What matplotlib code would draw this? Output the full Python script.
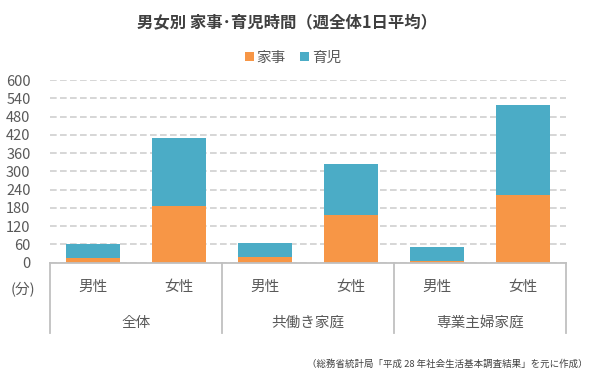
import matplotlib
matplotlib.use("Agg")
import matplotlib.pyplot as plt
import numpy as np

plt.rcParams['font.family'] = ['Noto Sans CJK JP', 'DejaVu Sans']

groups = ["全体", "共働き家庭", "専業主婦家庭"]
sexes = ["男性", "女性"]
kaji = [15, 185, 18, 158, 7, 221]     # 家事 (分)
ikuji = [48, 223, 47, 167, 46, 297]   # 育児 (分)
yticks = [0, 60, 120, 180, 240, 300, 360, 420, 480, 540, 600]

c_kaji = "#F79646"
c_ikuji = "#4BACC6"
txt = "#595959"

fig = plt.figure(figsize=(6, 3.72), dpi=100)
ax = fig.add_axes([50/600, 109.3/372, 516/600, 182.7/372])

x = np.arange(len(kaji))
ax.bar(x, kaji, width=0.62, color=c_kaji, label="家事", zorder=3)
ax.bar(x, ikuji, width=0.62, bottom=kaji, color=c_ikuji, label="育児", zorder=3)

ax.set_xlim(-0.5, len(kaji) - 0.5)
ax.set_ylim(0, 600)
ax.set_yticks(yticks)
ax.tick_params(axis='y', length=0, pad=14, labelsize=10.5, labelcolor=txt)
ax.tick_params(axis='x', length=0, labelbottom=False)
ax.yaxis.grid(True, color="#d0d0d0", linestyle=(0, (4, 2)), linewidth=1.2, zorder=0)
for s in ["top", "right", "left"]:
    ax.spines[s].set_visible(False)
ax.spines["bottom"].set_color("#c0c0c0")
ax.spines["bottom"].set_linewidth(1.3)
ax.spines["bottom"].set_zorder(4)

# category labels below axis
trans = ax.get_xaxis_transform()
for i, xi in enumerate(x):
    ax.text(xi, -0.131, sexes[i % 2], transform=trans, ha="center", va="center",
            fontsize=10.5, color=txt)
for g, name in enumerate(groups):
    ax.text(2 * g + 0.5, -0.328, name, transform=trans, ha="center", va="center",
            fontsize=10.5, color=txt)
for b in [-0.5, 1.5, 3.5, 5.5]:
    ax.plot([b, b], [0, -0.385], transform=trans, color="#c0c0c0", lw=1.3,
            clip_on=False)

fig.text(22.7/600, 1 - 290/372, "(分)", ha="center", va="center", fontsize=10.5, color=txt)

fig.text(287/600, 1 - 23/372, "男女別 家事･育児時間（週全体1日平均）", ha="center", va="center",
         fontsize=11.8, fontweight="bold", color="#404040")

ax.legend(loc="center", bbox_to_anchor=(293/600, 1 - 58/372), bbox_transform=fig.transFigure,
          ncol=2, frameon=False, fontsize=10.5, handlelength=0.6, handleheight=0.6,
          handletextpad=0.2, columnspacing=1.0, labelcolor=txt)

fig.text(588/600, 1 - 364/372, "（総務省統計局「平成 28 年社会生活基本調査結果」を元に作成）",
         ha="right", va="center", fontsize=6.8, color="#404040")

fig.savefig("out.png", dpi=100)
